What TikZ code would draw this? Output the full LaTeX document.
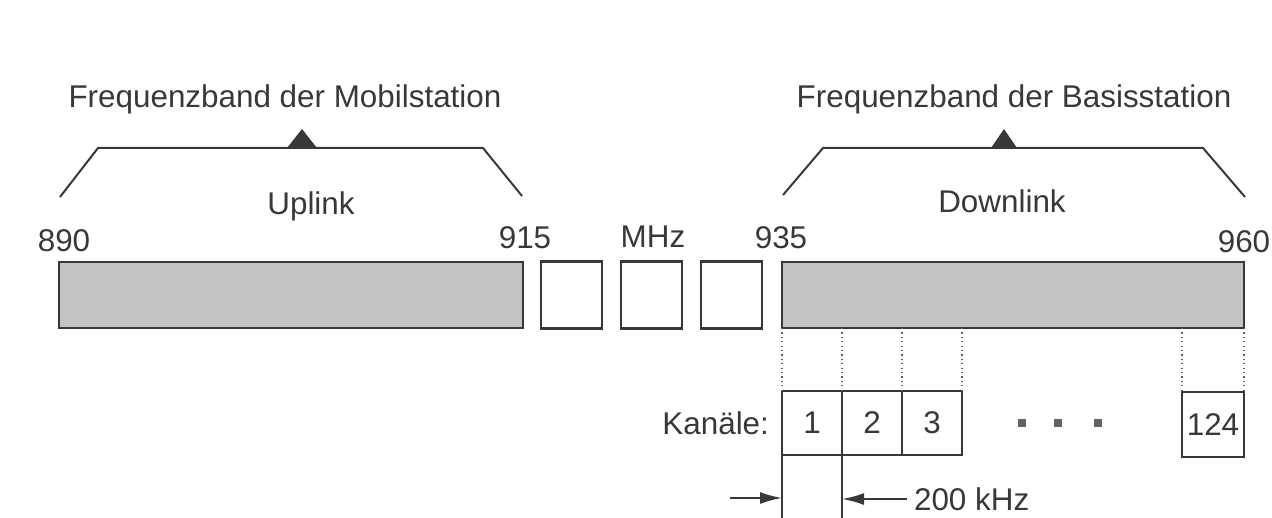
\documentclass[tikz,border=0pt]{standalone}
\usepackage{fontspec}
\setmainfont{Liberation Sans}
\usepackage{xcolor}
\usetikzlibrary{arrows.meta, positioning, calc}
\definecolor{ink}{HTML}{383838}
\definecolor{stipple}{HTML}{C4C4C4}

\begin{document}
\begin{tikzpicture}[
    x=0.5pt, y=-0.5pt,
    font=\fontsize{15.7}{19}\selectfont,
    every node/.style = {text=ink},
    band/.style = {rectangle, draw=ink, fill=stipple, line width=1.2pt, minimum height=33pt, inner sep=0pt, outer sep=0pt, anchor=north west},
    gapbox/.style = {rectangle, draw=ink, line width=1.1pt, minimum width=30.5pt, minimum height=33.5pt, inner sep=0pt, outer sep=0pt},
    chan/.style = {rectangle, draw=ink, line width=1.1pt, minimum width=30pt, minimum height=32pt, inner sep=0pt, outer sep=0pt},
    dotsq/.style = {rectangle, fill=ink!80, minimum size=4pt, inner sep=0pt},
    brace/.style = {draw=ink, line width=1pt},
    guide/.style = {draw=ink!80, dash pattern=on 0.6pt off 1.6pt, line width=0.7pt},
    arrow/.style = {draw=ink, line width=1pt, ->, >={Latex[length=11pt, width=6pt]}}
]
\useasboundingbox (0,0) rectangle (1272,518);

% Frequency bands
\node (uplink) [band, minimum width=232pt] at (59,262) {};
\node (gapa) [gapbox, right=9pt of uplink] {};
\node (gapb) [gapbox, right=9.5pt of gapa] {};
\node (gapc) [gapbox, right=9.5pt of gapb] {};
\node (downlink) [band, minimum width=231pt] at (782,262) {};

% Band edges
\node (f890) [anchor=base] at (64,251) {890};
\node (f915) [anchor=base] at (525,249) {915};
\node (mhz) [anchor=base] at (653,247) {MHz};
\node (f935) [anchor=base] at (781,249) {935};
\node (f960) [anchor=base] at (1244,252) {960};

% Brackets
\draw [brace] (60,197) -- (98,148) -- (483,148) -- (522,196);
\fill [ink] (287,148) -- (302,129) -- (317,148) -- cycle;
\draw [brace] (783,195) -- (823,148) -- (1203,148) -- (1245,197);
\fill [ink] (991,148) -- (1004,129) -- (1017,148) -- cycle;

\node (mobil) [anchor=base] at (285,108) {Frequenzband der Mobilstation};
\node (basis) [anchor=base] at (1014,108) {Frequenzband der Basisstation};
\node (up) [anchor=base] at (311,214) {Uplink};
\node (down) [anchor=base] at (1002,213) {Downlink};

% Channels
\node (chan1) [chan, anchor=north west] at (782,391) {1};
\node (chan2) [chan, right=0pt of chan1] {2};
\node (chan3) [chan, right=0pt of chan2] {3};
\node (chan124) [chan, minimum width=31pt, minimum height=32.5pt, anchor=north west] at (1182,392) {124};
\node (kanaele) [left=3pt of chan1] {Kanäle:};
\foreach \x [count=\i] in {1022,1058,1098}
    \node (dot\i) [dotsq] at (\x,423) {};

\foreach \a in {chan1.north west, chan1.north east, chan2.north east, chan3.north east, chan124.north west, chan124.north east}
    \draw [guide] (\a |- downlink.south) -- (\a);

% Channel width
\coordinate (floor) at (0,518);
\draw [ink, line width=1.1pt] (chan1.south west) -- (chan1.south west |- floor);
\draw [ink, line width=1.1pt] (chan1.south east) -- (chan1.south east |- floor);
\coordinate (wl) at (730,498);
\node (bw) [anchor=west] at (907,499) {200 kHz};
\draw [arrow] (wl) -- (wl -| chan1.west);
\draw [arrow] (bw.west) -- (bw.west -| chan1.east);

\end{tikzpicture}
\end{document}
